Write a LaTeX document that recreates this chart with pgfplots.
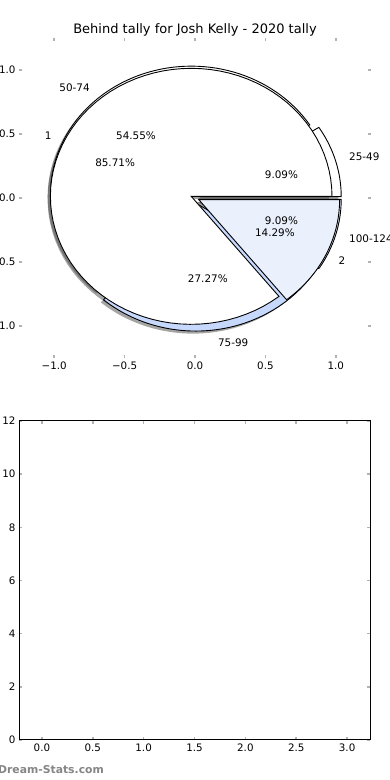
\documentclass[border=0pt]{standalone}
\usepackage{fontspec}
\setmainfont{DejaVu Sans}
\usepackage{pgfplots}
\pgfplotsset{compat=1.18}
\definecolor{lblue}{HTML}{C6D9FD}
\definecolor{vlblue}{HTML}{EAF0FC}
\newcommand\lblfont{\fontsize{10.4bp}{12bp}\selectfont}
\newcommand\tickfont{\fontsize{10.3bp}{12bp}\selectfont}
\newcommand\titlefont{\fontsize{13bp}{15bp}\selectfont}
\newcommand\wmfont{\fontsize{10.8bp}{13bp}\selectfont\bfseries}

% data: outer ring counts (25-49, 50-74, 75-99, 100-124), inner ring counts (1, 2)
\def\outerA{1}\def\outerB{6}\def\outerC{3}\def\outerD{1}
\def\innerA{6}\def\innerB{1}
\pgfmathsetmacro\oT{\outerA+\outerB+\outerC+\outerD}
\pgfmathsetmacro\oa{360*\outerA/\oT}
\pgfmathsetmacro\ob{360*(\outerA+\outerB)/\oT}
\pgfmathsetmacro\oc{360*(\outerA+\outerB+\outerC)/\oT}
\pgfmathsetmacro\iT{\innerA+\innerB}
\pgfmathsetmacro\ia{360*\innerA/\iT}
\def\oexp{0.04}\def\iexp{0.03}

% #1 start, #2 end, #3 explode, #4 shadow shift, #5 style
\newcommand{\pieWedge}[5]{%
  \pgfmathsetmacro\wmid{(#1+#2)/2}%
  \pgfmathsetmacro\wx{#3*cos(\wmid)+#4}%
  \pgfmathsetmacro\wy{#3*sin(\wmid)+#4}%
  \edef\wcmd{\noexpand\addplot[#5,domain=#1:#2,samples=80] ({\wx+cos(x)},{\wy+sin(x)}) -- (axis cs:\wx,\wy) -- cycle;}%
  \wcmd}
% #1 start, #2 end, #3 explode, #4 label, #5 pct
\newcommand{\pieLabel}[5]{%
  \pgfmathsetmacro\wmid{(#1+#2)/2}%
  \pgfmathsetmacro\wlx{(#3+1.1)*cos(\wmid)}%
  \pgfmathsetmacro\wly{(#3+1.1)*sin(\wmid)}%
  \pgfmathsetmacro\wpx{(#3+0.6)*cos(\wmid)}%
  \pgfmathsetmacro\wpy{(#3+0.6)*sin(\wmid)}%
  \ifdim\wlx pt>0pt \def\wanc{west}\else\def\wanc{east}\fi
  \edef\wcmd{\noexpand\node[anchor=\wanc,inner sep=0pt,font=\noexpand\lblfont] at (axis cs:\wlx,\wly) {\unexpanded{#4}};
    \noexpand\node[inner sep=0pt,font=\noexpand\lblfont] at (axis cs:\wpx,\wpy) {\unexpanded{#5}};}%
  \wcmd}

\begin{document}
\begin{tikzpicture}
\pgfplotsset{
  every axis/.append style={
    scale only axis, anchor=south west,
    tick align=inside, major tick length=3bp,
    tick style={draw=black!30,line width=1.5bp},
    tick label style={font=\tickfont},
  }
}
\begin{axis}[
  at={(19bp,422bp)}, width=352bp, height=320bp,
  xmin=-1.25,xmax=1.25,ymin=-1.25,ymax=1.25,
  axis line style={draw=none},
  xtick={-1,-0.5,0,0.5,1}, xticklabels={−1.0,−0.5,0.0,0.5,1.0},
  ytick={-1,-0.5,0,0.5,1}, yticklabels={−1.0,−0.5,0.0,0.5,1.0},
  clip=false,
]
% shadows
\pieWedge{0}{\oa}{\oexp}{-0.02}{draw=none,fill=black!70,fill opacity=0.5}
\pieWedge{\oa}{\ob}{\oexp}{-0.02}{draw=none,fill=black!70,fill opacity=0.5}
\pieWedge{\ob}{\oc}{\oexp}{-0.02}{draw=none,fill=black!70,fill opacity=0.5}
\pieWedge{\oc}{360}{\oexp}{-0.02}{draw=none,fill=black!70,fill opacity=0.5}
\pieWedge{0}{\ia}{\iexp}{-0.02}{draw=none,fill=black!70,fill opacity=0.5}
\pieWedge{\ia}{360}{\iexp}{-0.02}{draw=none,fill=black!70,fill opacity=0.5}
% outer wedges
\pieWedge{0}{\oa}{\oexp}{0}{draw=black,fill=white,line width=0.9bp}
\pieWedge{\oa}{\ob}{\oexp}{0}{draw=black,fill=white,line width=0.9bp}
\pieWedge{\ob}{\oc}{\oexp}{0}{draw=black,fill=lblue,line width=0.9bp}
\pieWedge{\oc}{360}{\oexp}{0}{draw=black,fill=vlblue,line width=0.9bp}
% inner wedges
\pieWedge{0}{\ia}{\iexp}{0}{draw=black,fill=white,line width=0.9bp}
\pieWedge{\ia}{360}{\iexp}{0}{draw=black,fill=vlblue,line width=0.9bp}
% labels
\pieLabel{0}{\oa}{\oexp}{25-49}{9.09\%}
\pieLabel{\oa}{\ob}{\oexp}{50-74}{54.55\%}
\pieLabel{\ob}{\oc}{\oexp}{75-99}{27.27\%}
\pieLabel{\oc}{360}{\oexp}{100-124}{9.09\%}
\pieLabel{0}{\ia}{\iexp}{1}{85.71\%}
\pieLabel{\ia}{360}{\iexp}{2}{14.29\%}
\end{axis}
\node[font=\titlefont] at (195bp,750bp) {Behind tally for Josh Kelly - 2020 tally};

\begin{axis}[
  at={(19bp,40bp)}, width=351bp, height=319bp,
  xmin=-0.225,xmax=3.225,ymin=0,ymax=12,
  axis line style={draw=black,line width=1bp},
  xtick={0,0.5,1,1.5,2,2.5,3}, xticklabels={0.0,0.5,1.0,1.5,2.0,2.5,3.0},
  ytick={0,2,4,6,8,10,12}, yticklabels={0,2,4,6,8,10,12},
]
\end{axis}
\node[anchor=west,inner sep=0pt,text=black!48,font=\wmfont] at (-2bp,10bp) {Dream-Stats.com};
\pgfresetboundingbox
\useasboundingbox (0,0) rectangle (390bp,780bp);
\end{tikzpicture}
\end{document}
